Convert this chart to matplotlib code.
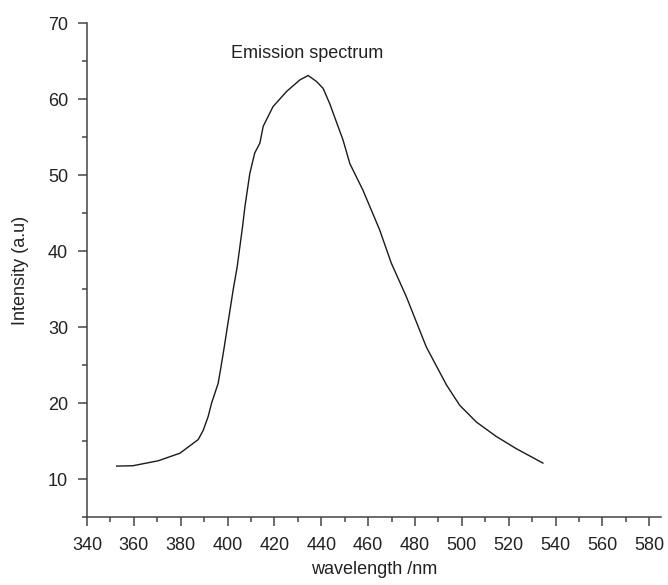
import matplotlib
matplotlib.use("Agg")
import matplotlib.pyplot as plt
from matplotlib.ticker import MultipleLocator

plt.rcParams['font.family'] = ['Liberation Sans', 'DejaVu Sans']

# emission spectrum
wavelength = [352.7, 359.6, 370.4, 379.7, 387.5, 389.6, 391.7, 393.2, 394.6, 396.0,
              397.0, 398.4, 402.4, 404.1, 406.4, 407.4, 409.5, 411.6, 413.8, 415.2,
              419.4, 425.2, 430.8, 434.4, 438.0, 440.8, 443.6, 449.3, 452.2, 457.8,
              464.9, 469.9, 476.3, 484.8, 493.4, 499.1, 506.2, 514.7, 523.2, 534.6]
intensity = [11.7, 11.75, 12.4, 13.4, 15.2, 16.4, 18.2, 20.0, 21.3, 22.6,
             24.4, 27.0, 34.9, 37.9, 43.2, 45.8, 50.2, 52.9, 54.2, 56.4,
             59.0, 61.0, 62.5, 63.1, 62.3, 61.4, 59.4, 54.6, 51.5, 48.0,
             42.8, 38.4, 34.0, 27.4, 22.4, 19.7, 17.5, 15.6, 14.0, 12.1]

fig = plt.figure(figsize=(6.68, 5.85), dpi=100)
ax = fig.add_axes([0.1302, 0.1162, 0.8593, 0.8444])

ax.plot(wavelength, intensity, color='#1a1a1a', linewidth=1.0)

ax.set_xlim(340, 585)
ax.set_ylim(5, 70)
ax.xaxis.set_major_locator(MultipleLocator(20))
ax.xaxis.set_minor_locator(MultipleLocator(10))
ax.yaxis.set_major_locator(MultipleLocator(10))
ax.yaxis.set_minor_locator(MultipleLocator(5))
ax.set_yticks([10, 20, 30, 40, 50, 60, 70])

for s in ['top', 'right']:
    ax.spines[s].set_visible(False)
for s in ['left', 'bottom']:
    ax.spines[s].set_color('#444444')
    ax.spines[s].set_linewidth(1.1)

ax.tick_params(which='major', direction='out', length=6.5, width=1.1, color='#444444',
               labelsize=13, labelcolor='#222222')
ax.tick_params(axis='x', which='major', pad=8)
ax.tick_params(axis='y', which='major', pad=7)
ax.tick_params(which='minor', direction='out', length=3.3, width=1.1, color='#444444')

ax.set_xlabel('wavelength /nm', fontsize=13, color='#222222', labelpad=5)
ax.set_ylabel('Intensity (a.u)', fontsize=13, color='#222222', labelpad=14)

ax.text(434, 66, 'Emission spectrum', fontsize=13, color='#222222', ha='center', va='center')

fig.savefig('out.png', dpi=100)
